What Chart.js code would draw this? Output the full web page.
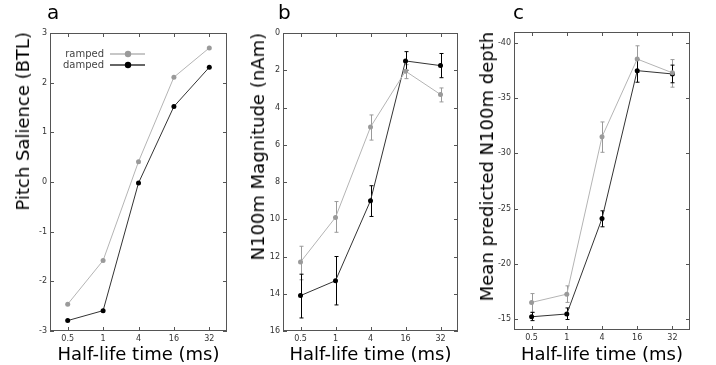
<!DOCTYPE html>
<html>
<head>
<meta charset="utf-8">
<script src="https://cdn.jsdelivr.net/npm/chart.js@4.4.0/dist/chart.umd.min.js"></script>
<style>
  body { margin: 0; background: #fff; font-family: "DejaVu Sans", sans-serif; }
  #wrap { position: relative; width: 716px; height: 365px; overflow: hidden; }
  canvas { position: absolute; top: 0; }
  .letter { position: absolute; top: 2px; font-size: 20px; line-height: 20px; color: #000; }
  .ytitle { position: absolute; font-size: 18px; line-height: 18px; color: #000;
            writing-mode: vertical-rl; transform: rotate(180deg); white-space: nowrap; }
</style>
</head>
<body>
<div id="wrap">
  <canvas id="panelA" width="235" height="365" style="left:0px"></canvas>
  <canvas id="panelB" width="235" height="365" style="left:235px"></canvas>
  <canvas id="panelC" width="246" height="365" style="left:470px"></canvas>
  <div class="letter" style="left:47px">a</div>
  <div class="letter" style="left:278px">b</div>
  <div class="letter" style="left:513px">c</div>
  <div class="ytitle" style="left:14px; top:32px">Pitch Salience (BTL)</div>
  <div class="ytitle" style="left:249px; top:33px">N100m Magnitude (nAm)</div>
  <div class="ytitle" style="left:478px; top:32px">Mean predicted N100m depth</div>
</div>
<script>
// half-life conditions (x categories, equally spaced)
const halfLife = ['0.5', '1', '4', '16', '32'];

// panel a: pitch salience
const salienceRamped = [-2.46, -1.58, 0.41, 2.11, 2.70];
const salienceDamped = [-2.79, -2.59, -0.02, 1.52, 2.31];
const salienceTicks = [-3, -2, -1, 0, 1, 2, 3];

// panel b: N100m magnitude with error bars
const magRamped   = [12.3, 9.9, 5.05, 2.05, 3.3];
const magRampedLo = [11.45, 9.05, 4.4, 1.7, 2.95];
const magRampedHi = [13.25, 10.7, 5.75, 2.45, 3.7];
const magDamped   = [14.1, 13.3, 9.0, 1.5, 1.75];
const magDampedLo = [12.95, 12.0, 8.2, 1.0, 1.1];
const magDampedHi = [15.3, 14.6, 9.85, 2.0, 2.4];
const magTicks = [0, 2, 4, 6, 8, 10, 12, 14, 16];

// panel c: predicted N100m depth with error bars
const depthRamped   = [-16.5, -17.25, -31.5, -38.55, -37.3];
const depthRampedLo = [-17.3, -18.0, -32.85, -39.75, -38.5];
const depthRampedHi = [-15.6, -16.5, -30.1, -37.35, -36.0];
const depthDamped   = [-15.2, -15.45, -24.1, -37.5, -37.2];
const depthDampedLo = [-15.6, -16.0, -24.8, -38.5, -38.0];
const depthDampedHi = [-14.85, -14.95, -23.35, -36.45, -36.4];
const depthTicks = [-40, -35, -30, -25, -20, -15];

const RAMP_LINE = '#b4b4b4', RAMP_DOT = '#9a9a9a';
const DAMP_LINE = '#333333', DAMP_DOT = '#000000';

Chart.defaults.font.family = '"DejaVu Sans", sans-serif';

// box round the plot with inward ticks on all four sides
const frame = {
  id: 'frame',
  beforeDatasetsDraw(chart) {
    const {ctx, chartArea: a, scales: {x, y}} = chart;
    ctx.save();
    ctx.strokeStyle = '#555';
    ctx.lineWidth = 1;
    ctx.strokeRect(Math.round(a.left) + 0.5, Math.round(a.top) + 0.5,
                   Math.round(a.width) - 1, Math.round(a.height) - 1);
    ctx.beginPath();
    x.ticks.forEach((t, i) => {
      const px = Math.round(x.getPixelForTick(i)) + 0.5;
      ctx.moveTo(px, a.top); ctx.lineTo(px, a.top + 4);
      ctx.moveTo(px, a.bottom); ctx.lineTo(px, a.bottom - 4);
    });
    y.ticks.forEach((t, i) => {
      const py = Math.round(y.getPixelForTick(i)) + 0.5;
      ctx.moveTo(a.left, py); ctx.lineTo(a.left + 4, py);
      ctx.moveTo(a.right, py); ctx.lineTo(a.right - 4, py);
    });
    ctx.stroke();
    ctx.restore();
  }
};

// vertical error bars from dataset.errLo / dataset.errHi
const errorBars = {
  id: 'errorBars',
  beforeDatasetsDraw(chart) {
    const {ctx, scales: {x, y}} = chart;
    ctx.save();
    chart.data.datasets.forEach(ds => {
      if (!ds.errLo) return;
      ctx.strokeStyle = ds.pointBackgroundColor;
      ctx.lineWidth = 1;
      ctx.beginPath();
      ds.data.forEach((v, i) => {
        const px = Math.round(x.getPixelForValue(i)) + 0.5;
        const y1 = y.getPixelForValue(ds.errLo[i]);
        const y2 = y.getPixelForValue(ds.errHi[i]);
        ctx.moveTo(px, y1); ctx.lineTo(px, y2);
        ctx.moveTo(px - 2, y1); ctx.lineTo(px + 2, y1);
        ctx.moveTo(px - 2, y2); ctx.lineTo(px + 2, y2);
      });
      ctx.stroke();
    });
    ctx.restore();
  }
};

// gnuplot style key: label, then line sample with a dot
const insideKey = {
  id: 'insideKey',
  afterDatasetsDraw(chart) {
    const {ctx, chartArea: a} = chart;
    ctx.save();
    chart.data.datasets.forEach((ds, i) => {
      const yy = a.top + 21 + i * 11;
      ctx.fillStyle = '#444';
      ctx.font = '10px "DejaVu Sans"';
      ctx.textAlign = 'right';
      ctx.textBaseline = 'middle';
      ctx.fillText(ds.label, a.left + 54, yy);
      ctx.strokeStyle = ds.borderColor;
      ctx.lineWidth = 1.5;
      ctx.beginPath();
      ctx.moveTo(a.left + 60, yy); ctx.lineTo(a.left + 95, yy);
      ctx.stroke();
      ctx.fillStyle = ds.pointBackgroundColor;
      ctx.beginPath();
      ctx.arc(a.left + 78, yy, 3.2, 0, Math.PI * 2);
      ctx.fill();
    });
    ctx.restore();
  }
};

function series(label, values, line, dot, lo, hi) {
  return {
    label: label,
    data: values,
    errLo: lo,
    errHi: hi,
    borderColor: line,
    borderWidth: 1,
    pointBackgroundColor: dot,
    pointBorderColor: dot,
    pointRadius: 2.5,
    pointBorderWidth: 0,
    tension: 0
  };
}

function panel(id, datasets, yOpts, layout, plugins) {
  return new Chart(document.getElementById(id), {
    type: 'line',
    data: { labels: halfLife, datasets: datasets },
    options: {
      responsive: false,
      animation: false,
      layout: { padding: layout.padding },
      plugins: { legend: { display: false }, tooltip: { enabled: false } },
      scales: {
        x: {
          type: 'category',
          offset: true,
          grid: { display: false, drawTicks: false },
          border: { display: false },
          ticks: { font: { size: 8 }, color: '#333', padding: 3, maxRotation: 0 },
          title: { display: true, text: 'Half-life time (ms)', color: '#000',
                   font: { size: 18, lineHeight: 1 }, padding: { top: 0, bottom: 1 } },
          afterFit: s => { s.height = layout.xHeight; }
        },
        y: {
          type: 'linear',
          min: yOpts.min,
          max: yOpts.max,
          reverse: yOpts.reverse,
          grid: { display: false, drawTicks: false },
          border: { display: false },
          ticks: { font: { size: 8 }, color: '#333', padding: 3 },
          afterBuildTicks: s => { s.ticks = yOpts.ticks.map(v => ({ value: v })); },
          afterFit: s => { s.width = layout.yWidth; }
        }
      }
    },
    plugins: [frame, errorBars].concat(plugins || [])
  });
}

panel('panelA', [
  series('ramped', salienceRamped, RAMP_LINE, RAMP_DOT),
  series('damped', salienceDamped, DAMP_LINE, DAMP_DOT)
], { min: -3, max: 3, reverse: false, ticks: salienceTicks },
   { padding: { left: 0, right: 8, top: 33, bottom: 0 }, yWidth: 50, xHeight: 34 },
   [insideKey]);

panel('panelB', [
  series('ramped', magRamped, RAMP_LINE, RAMP_DOT, magRampedLo, magRampedHi),
  series('damped', magDamped, DAMP_LINE, DAMP_DOT, magDampedLo, magDampedHi)
], { min: 0, max: 16, reverse: true, ticks: magTicks },
   { padding: { left: 0, right: 12, top: 33, bottom: 0 }, yWidth: 48, xHeight: 34 });

panel('panelC', [
  series('ramped', depthRamped, RAMP_LINE, RAMP_DOT, depthRampedLo, depthRampedHi),
  series('damped', depthDamped, DAMP_LINE, DAMP_DOT, depthDampedLo, depthDampedHi)
], { min: -41, max: -14, reverse: true, ticks: depthTicks },
   { padding: { left: 0, right: 26, top: 32, bottom: 0 }, yWidth: 44, xHeight: 35 });
</script>
</body>
</html>
